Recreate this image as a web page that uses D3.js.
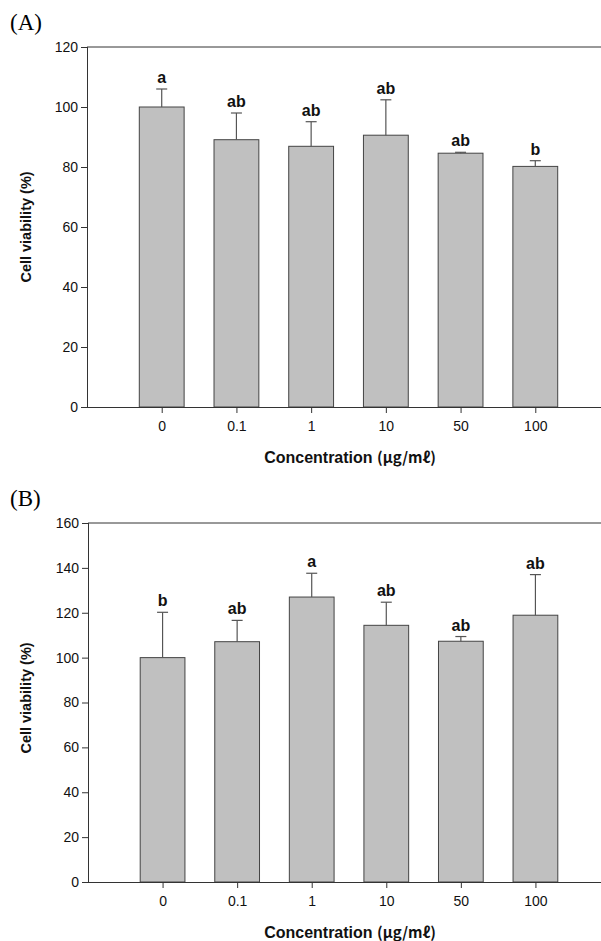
<!DOCTYPE html>
<html><head><meta charset="utf-8">
<script src="https://cdn.jsdelivr.net/npm/d3@7"></script>
<style>body{margin:0;background:#fff}svg{display:block}</style>
</head><body>
<script>
const categories = ["0", "0.1", "1", "10", "50", "100"];
const lettersA = ["a", "ab", "ab", "ab", "ab", "b"];
const valuesA = [100, 89.1, 86.9, 90.6, 84.6, 80.2];
const errorsA = [6.0, 8.9, 8.2, 11.8, 0.3, 1.9];
const ticksA = [0, 20, 40, 60, 80, 100, 120];
const lettersB = ["b", "ab", "a", "ab", "ab", "ab"];
const valuesB = [100, 107.1, 127.0, 114.4, 107.3, 118.9];
const errorsB = [20.2, 9.5, 10.6, 10.3, 2.1, 18.1];
const ticksB = [0, 20, 40, 60, 80, 100, 120, 140, 160];

const W = 601, H = 941;
const svg = d3.select("body").append("svg").attr("width", W).attr("height", H);

function panel(cfg) {
  const g = svg.append("g");
  const x = d3.scaleLinear().domain([0, categories.length + 1]).range([cfg.left, cfg.right]);
  const y = d3.scaleLinear().domain([0, cfg.ymax]).range([cfg.bottom, cfg.top]);
  const step = x(1) - x(0);
  const bw = step * 0.6;

  g.append("text").attr("x", 10).attr("y", cfg.labelY)
    .attr("font-family", "Liberation Serif, Times New Roman, serif").attr("font-size", 23)
    .text(cfg.label);

  g.append("line").attr("x1", cfg.left).attr("x2", W).attr("y1", y(cfg.ymax)).attr("y2", y(cfg.ymax))
    .attr("stroke", "#333").attr("stroke-width", 1);

  const idx = d3.range(categories.length);
  g.selectAll("rect.bar").data(idx).join("rect")
    .attr("x", i => x(i + 1) - bw / 2).attr("width", bw)
    .attr("y", i => y(cfg.values[i])).attr("height", i => y(0) - y(cfg.values[i]))
    .attr("fill", "#c0c0c0").attr("stroke", "#444").attr("stroke-width", 1);

  g.selectAll("line.err").data(idx).join("line")
    .attr("x1", i => x(i + 1)).attr("x2", i => x(i + 1))
    .attr("y1", i => y(cfg.values[i])).attr("y2", i => y(cfg.values[i] + cfg.errors[i]))
    .attr("stroke", "#555").attr("stroke-width", 1.2);
  g.selectAll("line.cap").data(idx).join("line")
    .attr("x1", i => x(i + 1) - 5.5).attr("x2", i => x(i + 1) + 5.5)
    .attr("y1", i => y(cfg.values[i] + cfg.errors[i])).attr("y2", i => y(cfg.values[i] + cfg.errors[i]))
    .attr("stroke", "#555").attr("stroke-width", 1.2);

  g.selectAll("text.let").data(idx).join("text")
    .attr("x", i => x(i + 1)).attr("y", i => y(cfg.values[i] + cfg.errors[i]) - 6)
    .attr("text-anchor", "middle").attr("font-family", "Liberation Sans, Arial, sans-serif")
    .attr("font-weight", "bold").attr("font-size", 16).attr("fill", "#111")
    .text(i => cfg.letters[i]);

  const yAxis = d3.axisLeft(y).tickValues(cfg.ticks).tickSize(6).tickPadding(3);
  const ga = g.append("g").attr("transform", `translate(${cfg.left},0)`).call(yAxis);
  const xAxis = d3.axisBottom(x).tickValues(idx.map(i => i + 1))
    .tickFormat(d => categories[d - 1]).tickSize(6).tickPadding(8);
  const gx = g.append("g").attr("transform", `translate(0,${cfg.bottom})`).call(xAxis);
  [ga, gx].forEach(a => {
    a.select(".domain").attr("stroke", "#333");
    a.selectAll(".tick line").attr("stroke", "#333");
    a.selectAll("text").attr("font-family", "Liberation Sans, Arial, sans-serif")
      .attr("font-size", 14).attr("fill", "#111");
  });
  gx.select(".domain").attr("d", `M${cfg.left},0.5H${W}`);
  ga.select(".domain").attr("d", `M0.5,${cfg.bottom}V${cfg.top}`);

  g.append("text")
    .attr("transform", `translate(31,${cfg.ytitleY}) rotate(-90)`)
    .attr("text-anchor", "middle").attr("font-family", "Liberation Sans, Arial, sans-serif")
    .attr("font-weight", "bold").attr("font-size", 14.5).attr("fill", "#111")
    .text("Cell viability (%)");
  const xt = g.append("text").attr("x", 350).attr("y", cfg.xtitleY)
    .attr("text-anchor", "middle").attr("font-family", "Liberation Sans, Arial, sans-serif")
    .attr("font-weight", "bold").attr("font-size", 16).attr("fill", "#111");
  xt.append("tspan").text("Concentration ");
  xt.append("tspan").attr("font-family", "Noto Sans CJK KR, sans-serif").attr("font-size", 15).text("(μg/mℓ)");
}

panel({label: "(A)", labelY: 30, left: 87, right: 610, top: 47, bottom: 407, ymax: 120,
  ticks: ticksA, values: valuesA, errors: errorsA, letters: lettersA, ytitleY: 227, xtitleY: 463});
panel({label: "(B)", labelY: 506, left: 88, right: 610, top: 523, bottom: 882, ymax: 160,
  ticks: ticksB, values: valuesB, errors: errorsB, letters: lettersB, ytitleY: 698, xtitleY: 938});
</script>
</body></html>
